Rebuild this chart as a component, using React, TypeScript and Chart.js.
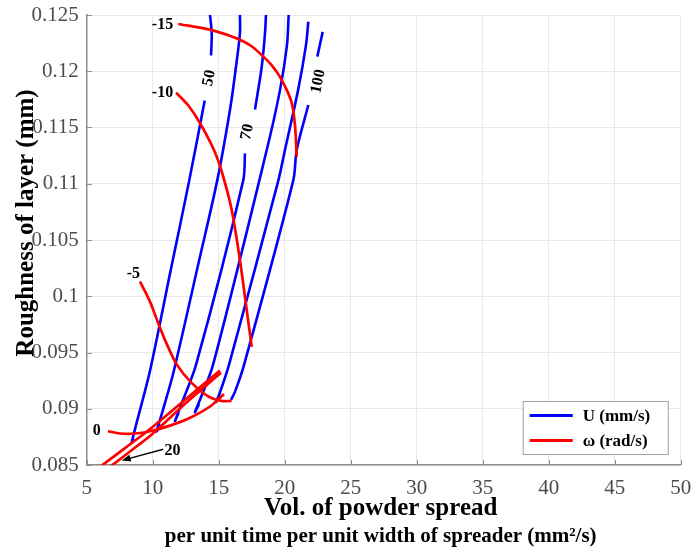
import React, { useEffect, useRef } from 'react';
import { Chart, registerables } from 'chart.js';

Chart.register(...registerables);

// ---------- data ----------
// x ticks / y ticks
const xTicks = [5, 10, 15, 20, 25, 30, 35, 40, 45, 50];
const yTicks = [0.085, 0.09, 0.095, 0.1, 0.105, 0.11, 0.115, 0.12, 0.125];
const yTickLabels = ['0.085', '0.09', '0.095', '0.1', '0.105', '0.11', '0.115', '0.12', '0.125'];

// Blue curves: constant U (mm/s). null = gap left for a contour label
const u50X = [14.34, 14.47, 14.42, 14.2, 13.94, 12.77, 11.36, 9.8, 8.41, 8.62];
const u50Y = [0.125, 0.1234, 0.1214, null, 0.1174, 0.1103, 0.1023, 0.0934, 0.087, 0.0873];
const u60X = [16.61, 16.61, 16.31, 15.86, 14.89, 13.52, 11.61, 10.78, 10.3, 10.59];
const u60Y = [0.125, 0.1234, 0.1204, 0.1166, 0.1103, 0.1032, 0.0934, 0.0899, 0.0880, 0.0886];
const u70X = [18.58, 18.51, 18.26, 17.75, 17.4, 16.99, 16.86, 13.28, 12.07, 11.69, 11.95];
const u70Y = [0.125, 0.1234, 0.1204, 0.1166, null, 0.1127, 0.1103, 0.0939, 0.0901, 0.0889, 0.0896];
const u80X = [20.3, 20.17, 19.64, 18.64, 14.57, 13.58, 13.2, 13.51];
const u80Y = [0.125, 0.1223, 0.1183, 0.113, 0.0939, 0.0908, 0.0897, 0.0904];
const u90X = [21.79, 21.61, 21.01, 20.02, 19.52, 15.78, 15.02, 14.8, 15.1];
const u90Y = [0.1244, 0.1223, 0.1183, 0.113, 0.1103, 0.0939, 0.0912, 0.0906, 0.0911];
const u100X = [22.88, 22.47, 22.1, 21.79, 20.91, 20.65, 16.92, 16.23, 15.93];
const u100Y = [0.1235, 0.1213, null, 0.117, 0.113, 0.1103, 0.0939, 0.0915, 0.0908];

// Red curves: constant omega (rad/s)
const wm15X = [11.94, 14.34, 15.48, 16.61, 17.52, 18.38, 19.04, 19.64, 20.17, 20.53, 20.78, 20.91];
const wm15Y = [0.1242, 0.1237, 0.1233, 0.1228, 0.1222, 0.1213, 0.1205, 0.1195, 0.1183, 0.1172, 0.1152, 0.1124];
const wm10X = [11.77, 12.67, 13.58, 14.64, 15.25, 15.98, 16.61, 17.12, 17.5];
const wm10Y = [0.1181, 0.117, 0.1154, 0.113, 0.111, 0.1077, 0.1032, 0.0988, 0.0955];
const wm5X = [9.04, 9.8, 10.42, 11.01, 11.84, 12.95, 14.21, 15.23, 15.98];
const wm5Y = [0.1013, 0.0995, 0.0976, 0.0959, 0.0939, 0.0923, 0.0911, 0.0907, 0.0907];
const w0X = [6.61, 7.52, 8.66, 9.8, 11.31, 12.83, 14.34, 15.4];
const w0Y = [0.088, 0.0878, 0.0878, 0.088, 0.0885, 0.0892, 0.0902, 0.0913];
const w10X = [6.08, 7.9, 9.8, 12.45, 15.1];
const w10Y = [0.0849, 0.0865, 0.0882, 0.0908, 0.0934];
const w20X = [6.61, 8.28, 10.02, 12.6, 15.17];
const w20Y = [0.0847, 0.0862, 0.0878, 0.0906, 0.0932];

// contour labels (data coordinates)
const labelText = ['-15', '-10', '-5', '0', '20', '50', '70', '100'];
const labelX = [10.74, 10.74, 8.54, 5.76, 11.5, 14.29, 17.17, 22.55];
const labelY = [0.1241, 0.1181, 0.102, 0.088, 0.0863, 0.1194, 0.1146, 0.1191];
const labelAngle = [0, 0, 0, 0, 0, -79, -78, -78];

// arrow from label "20" to its curve
const arrowFrom = [10.8, 0.0864];
const arrowTo = [7.65, 0.0854];

const legendNames = ['U (mm/s)', 'ω (rad/s)'];
const xTitle = ['Vol. of powder spread', 'per unit time per unit width of spreader (mm²/s)'];
const yTitle = 'Roughness of layer (mm)';

// ---------- styling ----------
const BLUE = '#0000ff';
const RED = '#ff0000';
const SERIF = '"Liberation Serif", "Times New Roman", serif';

function pts(xs: number[], ys: (number | null)[]) {
  return xs.map((x, i) => ({ x, y: ys[i] }));
}

const blueSeries: [number[], (number | null)[]][] = [
  [u50X, u50Y], [u60X, u60Y], [u70X, u70Y], [u80X, u80Y], [u90X, u90Y], [u100X, u100Y],
];
const redSeries: [number[], (number | null)[]][] = [
  [wm15X, wm15Y], [wm10X, wm10Y], [wm5X, wm5Y], [w0X, w0Y], [w10X, w10Y], [w20X, w20Y],
];

const annotPlugin = {
  id: 'annot',
  afterDatasetsDraw(chart: any) {
    const { ctx, chartArea: ca, scales } = chart;
    const xs = scales.x, ys = scales.y;
    ctx.save();
    // inward tick marks
    ctx.strokeStyle = '#8c8c8c';
    ctx.lineWidth = 1;
    xTicks.forEach((v) => {
      const px = Math.round(xs.getPixelForValue(v)) + 0.5;
      ctx.beginPath(); ctx.moveTo(px, ca.bottom); ctx.lineTo(px, ca.bottom - 5); ctx.stroke();
    });
    yTicks.forEach((v) => {
      const py = Math.round(ys.getPixelForValue(v)) + 0.5;
      ctx.beginPath(); ctx.moveTo(ca.left, py); ctx.lineTo(ca.left + 5, py); ctx.stroke();
    });
    // contour labels
    ctx.fillStyle = '#000';
    ctx.font = `bold 16px ${SERIF}`;
    ctx.textAlign = 'center';
    ctx.textBaseline = 'middle';
    labelText.forEach((t, i) => {
      const px = xs.getPixelForValue(labelX[i]);
      const py = ys.getPixelForValue(labelY[i]);
      ctx.save();
      ctx.translate(px, py);
      ctx.rotate((labelAngle[i] * Math.PI) / 180);
      ctx.fillText(t, 0, 0);
      ctx.restore();
    });
    // arrow
    const ax0 = xs.getPixelForValue(arrowFrom[0]);
    const ay0 = ys.getPixelForValue(arrowFrom[1]);
    const ax1 = xs.getPixelForValue(arrowTo[0]);
    const ay1 = ys.getPixelForValue(arrowTo[1]);
    const ang = Math.atan2(ay1 - ay0, ax1 - ax0);
    const hl = 9, hw = 3.5;
    ctx.strokeStyle = '#000';
    ctx.lineWidth = 1.3;
    ctx.beginPath();
    ctx.moveTo(ax0, ay0);
    ctx.lineTo(ax1 - Math.cos(ang) * hl * 0.8, ay1 - Math.sin(ang) * hl * 0.8);
    ctx.stroke();
    ctx.beginPath();
    ctx.moveTo(ax1, ay1);
    ctx.lineTo(ax1 - Math.cos(ang) * hl - Math.sin(ang) * hw, ay1 - Math.sin(ang) * hl + Math.cos(ang) * hw);
    ctx.lineTo(ax1 - Math.cos(ang) * hl + Math.sin(ang) * hw, ay1 - Math.sin(ang) * hl - Math.cos(ang) * hw);
    ctx.closePath();
    ctx.fillStyle = '#000';
    ctx.fill();
    // legend box
    const bw = 145, bh = 53;
    const bx = ca.right - 158, by = ca.bottom - 64;
    ctx.fillStyle = '#fff';
    ctx.fillRect(bx, by, bw, bh);
    ctx.strokeStyle = '#a0a0a0';
    ctx.lineWidth = 1;
    ctx.strokeRect(bx + 0.5, by + 0.5, bw, bh);
    const colors = [BLUE, RED];
    legendNames.forEach((name, i) => {
      const ly = by + 14.5 + i * 25;
      ctx.strokeStyle = colors[i];
      ctx.lineWidth = 3;
      ctx.beginPath(); ctx.moveTo(bx + 7, ly); ctx.lineTo(bx + 50, ly); ctx.stroke();
      ctx.fillStyle = '#000';
      ctx.font = `bold 17px ${SERIF}`;
      ctx.textAlign = 'left';
      ctx.textBaseline = 'middle';
      ctx.fillText(name, bx + 60, ly + 1.5);
    });
    ctx.restore();
  },
  afterDraw(chart: any) {
    const { ctx, chartArea: ca } = chart;
    ctx.save();
    ctx.fillStyle = '#000';
    ctx.textAlign = 'center';
    ctx.textBaseline = 'middle';
    const cx = (ca.left + ca.right) / 2 - 3;
    ctx.font = `bold 25px ${SERIF}`;
    ctx.fillText(xTitle[0], cx, ca.bottom + 44);
    ctx.font = `bold 21px ${SERIF}`;
    ctx.fillText(xTitle[1], cx, ca.bottom + 72);
    ctx.font = `bold 25px ${SERIF}`;
    ctx.translate(27, ca.top + 208);
    ctx.rotate(-Math.PI / 2);
    ctx.fillText(yTitle, 0, 0);
    ctx.restore();
  },
};

const zeroPad = (s: any) => {
  s.paddingLeft = 0;
  s.paddingRight = 0;
  s.paddingTop = 0;
  s.paddingBottom = 0;
};

export default function App() {
  const ref = useRef<HTMLCanvasElement>(null);
  useEffect(() => {
    const canvas = ref.current;
    if (!canvas) return;
    const datasets: any[] = [];
    redSeries.forEach(([xs, ys], i) => {
      datasets.push({
        label: i === 0 ? legendNames[1] : '',
        data: pts(xs, ys),
        borderColor: RED,
        borderWidth: 2.7,
        pointRadius: 0,
        tension: 0.3,
        spanGaps: false,
        order: 0,
      });
    });
    blueSeries.forEach(([xs, ys], i) => {
      datasets.push({
        label: i === 0 ? legendNames[0] : '',
        data: pts(xs, ys),
        borderColor: BLUE,
        borderWidth: 2.6,
        pointRadius: 0,
        tension: 0.3,
        spanGaps: false,
        order: 1,
      });
    });
    const chart = new Chart(canvas, {
      type: 'line',
      data: { datasets },
      plugins: [annotPlugin],
      options: {
        responsive: false,
        animation: false,
        events: [],
        layout: { padding: { top: 15, right: 10.3, left: 0, bottom: 0 } },
        plugins: { legend: { display: false }, tooltip: { enabled: false } },
        scales: {
          x: {
            type: 'linear',
            min: 5,
            max: 50,
            afterFit: (s: any) => { s.height = 84; zeroPad(s); },
            afterBuildTicks: (s: any) => { s.ticks = xTicks.map((v) => ({ value: v })); },
            ticks: {
              font: { family: SERIF, size: 21 },
              color: '#4d4d4d',
              padding: 11,
              maxRotation: 0,
              autoSkip: false,
              callback: (v: any) => String(v),
            },
            grid: { color: '#e9e9e9', lineWidth: 1, drawTicks: false },
            border: { color: '#8c8c8c', width: 1.5 },
          },
          y: {
            type: 'linear',
            min: 0.085,
            max: 0.125,
            afterFit: (s: any) => { s.width = 86.7; zeroPad(s); },
            afterBuildTicks: (s: any) => { s.ticks = yTicks.map((v) => ({ value: v })); },
            ticks: {
              font: { family: SERIF, size: 21 },
              color: '#4d4d4d',
              padding: 8,
              autoSkip: false,
              callback: (v: any) => {
                const idx = yTicks.findIndex((t) => Math.abs(t - Number(v)) < 1e-9);
                return idx >= 0 ? yTickLabels[idx] : '';
              },
            },
            grid: { color: '#e9e9e9', lineWidth: 1, drawTicks: false },
            border: { color: '#8c8c8c', width: 1.5 },
          },
        },
      },
    });
    return () => chart.destroy();
  }, []);
  return (
    <div style={{ position: 'fixed', left: 0, top: 0, width: 691, height: 549, background: '#fff' }}>
      <canvas ref={ref} width={691} height={549} style={{ display: 'block', width: 691, height: 549 }} />
    </div>
  );
}
